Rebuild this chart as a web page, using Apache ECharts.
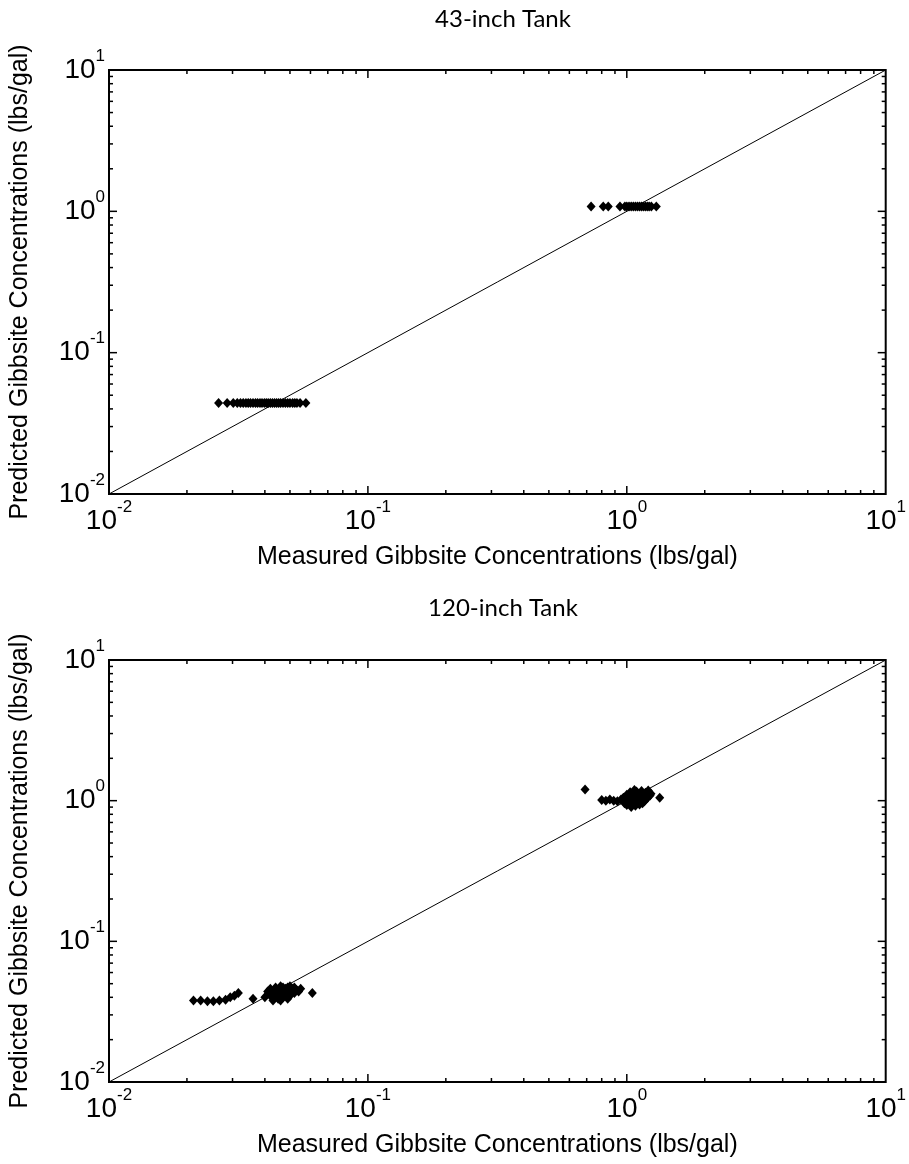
<!DOCTYPE html>
<html><head><meta charset="utf-8">
<script src="https://cdn.jsdelivr.net/npm/echarts@6/dist/echarts.min.js"></script>
<style>html,body{margin:0;padding:0;background:#fff}#c{width:909px;height:1164px}</style>
</head><body><div id="c"></div>
<script>
const titles = ['43-inch Tank', '120-inch Tank'];
const xName = 'Measured Gibbsite Concentrations (lbs/gal)';
const yName = 'Predicted Gibbsite Concentrations (lbs/gal)';
const axisMin = 0.01, axisMax = 10;
const majorTicks = [0.1, 1];
const minorTicks = [0.02,0.03,0.04,0.05,0.06,0.07,0.08,0.09,0.2,0.3,0.4,0.5,0.6,0.7,0.8,0.9,2,3,4,5,6,7,8,9];
const diagonal = [0.01, 10];

// 43-inch tank
const topLowX = [0.0265,0.0286,0.0302,0.0313,0.0322,0.0330,0.0338,0.0345,0.0352,0.0360,0.0368,0.0375,0.0383,0.0390,0.0398,0.0405,0.0412,0.0420,0.0428,0.0436,0.0444,0.0452,0.0460,0.0470,0.0480,0.0490,0.0500,0.0512,0.0522,0.0532,0.0547,0.0576];
const topLowY = [0.044,0.044,0.044,0.044,0.044,0.044,0.044,0.044,0.044,0.044,0.044,0.044,0.044,0.044,0.044,0.044,0.044,0.044,0.044,0.044,0.044,0.044,0.044,0.044,0.044,0.044,0.044,0.044,0.044,0.044,0.044,0.044];
const topHighX = [0.728,0.811,0.848,0.941,0.983,1.00,1.02,1.04,1.06,1.08,1.10,1.12,1.14,1.16,1.18,1.20,1.22,1.244,1.30];
const topHighY = [1.08,1.08,1.08,1.08,1.08,1.08,1.08,1.08,1.08,1.08,1.08,1.08,1.08,1.08,1.08,1.08,1.08,1.08,1.08];

// 120-inch tank
const botLowX = [0.0212,0.0226,0.0240,0.0253,0.0267,0.0282,0.0294,0.0305,0.0316,0.036,
  0.040,0.041,0.042,0.042,0.043,0.043,0.044,0.044,0.045,0.045,0.046,0.046,0.047,0.047,0.048,0.048,0.049,0.049,0.050,0.050,0.051,0.052,0.053,0.054,0.055,0.045,0.044,0.047,0.050,0.052,
  0.061];
const botLowY = [0.038,0.038,0.0375,0.0375,0.038,0.0385,0.040,0.041,0.043,0.039,
  0.040,0.044,0.046,0.041,0.038,0.043,0.047,0.040,0.045,0.042,0.038,0.048,0.044,0.040,0.046,0.042,0.039,0.047,0.044,0.041,0.046,0.043,0.045,0.044,0.046,0.039,0.044,0.047,0.048,0.047,
  0.043];
const botHighX = [0.69,0.80,0.83,0.86,0.89,0.92,0.95,
  0.97,0.98,1.00,1.00,1.02,1.03,1.04,1.05,1.06,1.07,1.08,1.08,1.10,1.10,1.12,1.12,1.14,1.14,1.16,1.17,1.18,1.20,1.21,1.23,1.24,1.05,1.09,1.13,0.99,1.15,
  1.34];
const botHighY = [1.20,1.01,1.00,1.02,1.00,0.99,1.02,
  1.05,0.96,1.10,0.93,1.00,1.15,0.90,1.06,0.97,1.19,1.02,0.92,1.12,0.98,1.07,0.94,1.17,1.01,1.10,0.99,1.14,1.04,1.18,1.09,1.12,1.13,1.16,1.04,1.01,0.96,
  1.05];

const FONT = 'Liberation Sans';
function zip(a, b) { return a.map((v, i) => [v, b[i]]); }

function tickData() {
  const d = [];
  majorTicks.forEach(v => { d.push([v, 1, 0, 8]); d.push([1, v, 1, 8]); });
  minorTicks.forEach(v => { d.push([v, 1, 0, 4]); d.push([1, v, 1, 4]); });
  return d;
}
function tickItem(params, api) {
  const v0 = api.value(0), v1 = api.value(1), kind = api.value(2), len = api.value(3);
  let segs;
  if (kind === 0) {
    const p0 = api.coord([v0, axisMin]), p1 = api.coord([v0, axisMax]);
    segs = [[p0[0], p0[1], p0[0], p0[1] - len], [p1[0], p1[1], p1[0], p1[1] + len]];
  } else {
    const p0 = api.coord([axisMin, v1]), p1 = api.coord([axisMax, v1]);
    segs = [[p0[0], p0[1], p0[0] + len, p0[1]], [p1[0], p1[1], p1[0] - len, p1[1]]];
  }
  return { type: 'group', children: segs.map(s => ({ type: 'line', shape: { x1: s[0], y1: s[1], x2: s[2], y2: s[3] }, style: { stroke: '#000', lineWidth: 1.5 } })) };
}

const labelRich = {
  b: { fontSize: 28, fontFamily: FONT, color: '#000' },
  s: { fontSize: 17, fontFamily: FONT, color: '#000', padding: [0, 0, 28, 0] }
};
function fmt(v) { return '{b|10}{s|' + Math.round(Math.log10(v)) + '}'; }

const grids = [
  { left: 108, right: 20, top: 70, height: 424 },
  { left: 108, right: 20, top: 660, height: 422 }
];
const titleTops = [2, 591];

const option = {
  backgroundColor: '#fff',
  animation: false,
  title: titles.map((t, i) => ({ text: t, left: 498, top: titleTops[i], textAlign: 'center', textStyle: { fontFamily: 'Lato', fontSize: 24, fontWeight: 'normal', color: '#000' } })),
  grid: grids.map(g => Object.assign({ show: true, borderColor: '#000', borderWidth: 2, backgroundColor: 'transparent' }, g)),
  xAxis: [0, 1].map(i => ({
    type: 'log', logBase: 10, min: axisMin, max: axisMax, gridIndex: i,
    name: xName, nameLocation: 'middle', nameGap: 51,
    nameTextStyle: { fontFamily: FONT, fontSize: 25, color: '#000' },
    axisLine: { show: false }, axisTick: { show: false }, splitLine: { show: false },
    axisLabel: { formatter: fmt, rich: labelRich, margin: 5 }
  })),
  yAxis: [0, 1].map(i => ({
    type: 'log', logBase: 10, min: axisMin, max: axisMax, gridIndex: i,
    name: yName, nameLocation: 'middle', nameGap: 76,
    nameTextStyle: { fontFamily: FONT, fontSize: 25, color: '#000' },
    axisLine: { show: false }, axisTick: { show: false }, splitLine: { show: false },
    axisLabel: { formatter: fmt, rich: labelRich, margin: 4 }
  })),
  series: [
    { type: 'line', xAxisIndex: 0, yAxisIndex: 0, data: zip(diagonal, diagonal), symbol: 'none', lineStyle: { color: '#000', width: 1 }, z: 2 },
    { type: 'line', xAxisIndex: 1, yAxisIndex: 1, data: zip(diagonal, diagonal), symbol: 'none', lineStyle: { color: '#000', width: 1 }, z: 2 },
    { type: 'scatter', xAxisIndex: 0, yAxisIndex: 0, data: zip(topLowX, topLowY).concat(zip(topHighX, topHighY)), symbol: 'diamond', symbolSize: [9, 10], itemStyle: { color: '#000', opacity: 1 }, z: 3 },
    { type: 'scatter', xAxisIndex: 1, yAxisIndex: 1, data: zip(botLowX, botLowY).concat(zip(botHighX, botHighY)), symbol: 'diamond', symbolSize: [9, 10], itemStyle: { color: '#000', opacity: 1 }, z: 3 },
    { type: 'custom', xAxisIndex: 0, yAxisIndex: 0, data: tickData(), renderItem: tickItem, z: 4, silent: true },
    { type: 'custom', xAxisIndex: 1, yAxisIndex: 1, data: tickData(), renderItem: tickItem, z: 4, silent: true }
  ]
};
echarts.init(document.getElementById('c'), null, { renderer: 'canvas' }).setOption(option);
</script></body></html>
